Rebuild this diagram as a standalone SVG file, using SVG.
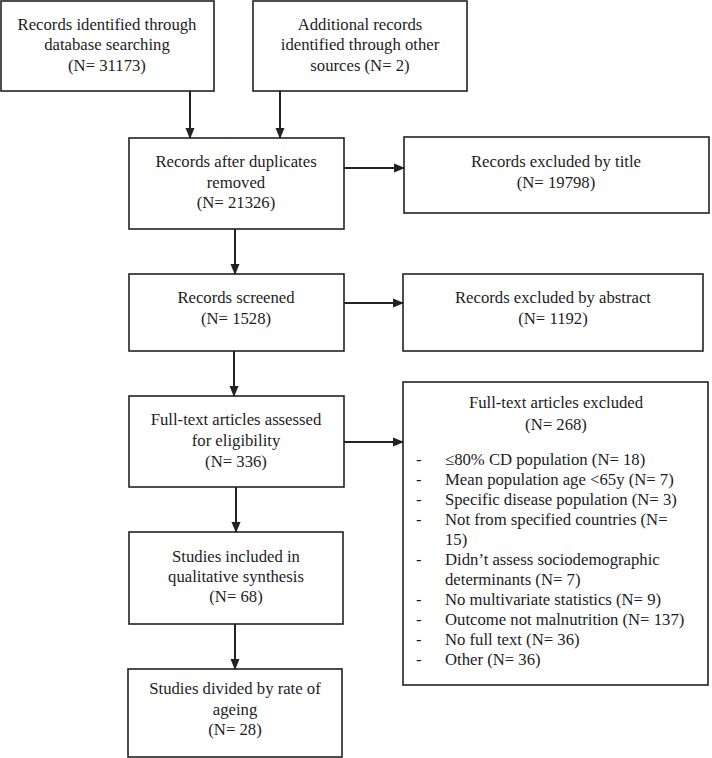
<svg xmlns="http://www.w3.org/2000/svg" width="712" height="758" viewBox="0 0 712 758">
<defs>
<marker id="ah" markerWidth="11" markerHeight="11" refX="10" refY="5.5" orient="auto" markerUnits="userSpaceOnUse">
<path d="M0,1 L11,5.5 L0,10 Z" fill="#222"/>
</marker>
</defs>
<style>
rect{fill:#fff;stroke:#222;stroke-width:1.6}
text{font-family:"Liberation Serif","Times New Roman",serif;font-size:16.7px;fill:#1c1c1c}
.c{text-anchor:middle}
.conn line{stroke:#222;stroke-width:2;marker-end:url(#ah)}
</style>
<rect x="0" y="0" width="712" height="758" style="fill:#fff;stroke:none"/>
<g id="n1"><rect x="1" y="1" width="213" height="90"/>
<text class="c" x="107" y="29.5">Records identified through</text>
<text class="c" x="107" y="50">database searching</text>
<text class="c" x="107" y="70.5">(N= 31173)</text></g>
<g id="n2"><rect x="253" y="1" width="214" height="90"/>
<text class="c" x="360" y="29.5">Additional records</text>
<text class="c" x="360" y="50">identified through other</text>
<text class="c" x="360" y="70.5">sources (N= 2)</text></g>
<g id="n3"><rect x="129" y="138" width="215" height="91"/>
<text class="c" x="236" y="167">Records after duplicates</text>
<text class="c" x="236" y="187.5">removed</text>
<text class="c" x="236" y="208">(N= 21326)</text></g>
<g id="n4"><rect x="404" y="137" width="305" height="76"/>
<text class="c" x="556" y="167">Records excluded by title</text>
<text class="c" x="556" y="187.5">(N= 19798)</text></g>
<g id="n5"><rect x="129" y="274" width="215" height="77"/>
<text class="c" x="236" y="303">Records screened</text>
<text class="c" x="236" y="324">(N= 1528)</text></g>
<g id="n6"><rect x="403" y="274" width="300" height="77"/>
<text class="c" x="553" y="303">Records excluded by abstract</text>
<text class="c" x="553" y="324">(N= 1192)</text></g>
<g id="n7"><rect x="129" y="396" width="215" height="91"/>
<text class="c" x="236" y="425">Full-text articles assessed</text>
<text class="c" x="236" y="446">for eligibility</text>
<text class="c" x="236" y="467">(N= 336)</text></g>
<g id="n8"><rect x="403" y="382" width="305" height="303"/>
<text class="c" x="556" y="408">Full-text articles excluded</text>
<text class="c" x="556" y="430">(N= 268)</text>
<g>
<text x="416" y="465">-</text><text x="445" y="465">≤80% CD population (N= 18)</text>
<text x="416" y="485">-</text><text x="445" y="485">Mean population age &lt;65y (N= 7)</text>
<text x="416" y="505">-</text><text x="445" y="505">Specific disease population (N= 3)</text>
<text x="416" y="525">-</text><text x="445" y="525">Not from specified countries (N=</text>
<text x="445" y="545">15)</text>
<text x="416" y="565">-</text><text x="445" y="565">Didn’t assess sociodemographic</text>
<text x="445" y="585">determinants (N= 7)</text>
<text x="416" y="605">-</text><text x="445" y="605">No multivariate statistics (N= 9)</text>
<text x="416" y="625">-</text><text x="445" y="625">Outcome not malnutrition (N= 137)</text>
<text x="416" y="645">-</text><text x="445" y="645">No full text (N= 36)</text>
<text x="416" y="665">-</text><text x="445" y="665">Other (N= 36)</text>
</g></g>
<g id="n9"><rect x="129" y="532" width="214" height="92"/>
<text class="c" x="236" y="562">Studies included in</text>
<text class="c" x="236" y="582">qualitative synthesis</text>
<text class="c" x="236" y="602">(N= 68)</text></g>
<g id="n10"><rect x="128" y="669" width="214" height="88"/>
<text class="c" x="235" y="694">Studies divided by rate of</text>
<text class="c" x="235" y="715">ageing</text>
<text class="c" x="235" y="735">(N= 28)</text></g>
<g id="connectors" class="conn">
<line x1="190" y1="91" x2="190" y2="138"/>
<line x1="280" y1="91" x2="280" y2="138"/>
<line x1="344" y1="168" x2="404" y2="168"/>
<line x1="235" y1="229" x2="235" y2="274"/>
<line x1="344" y1="303" x2="403" y2="303"/>
<line x1="234" y1="351" x2="234" y2="396"/>
<line x1="344" y1="442" x2="403" y2="442"/>
<line x1="236" y1="487" x2="236" y2="532"/>
<line x1="235" y1="624" x2="235" y2="669"/>
</g>
</svg>
